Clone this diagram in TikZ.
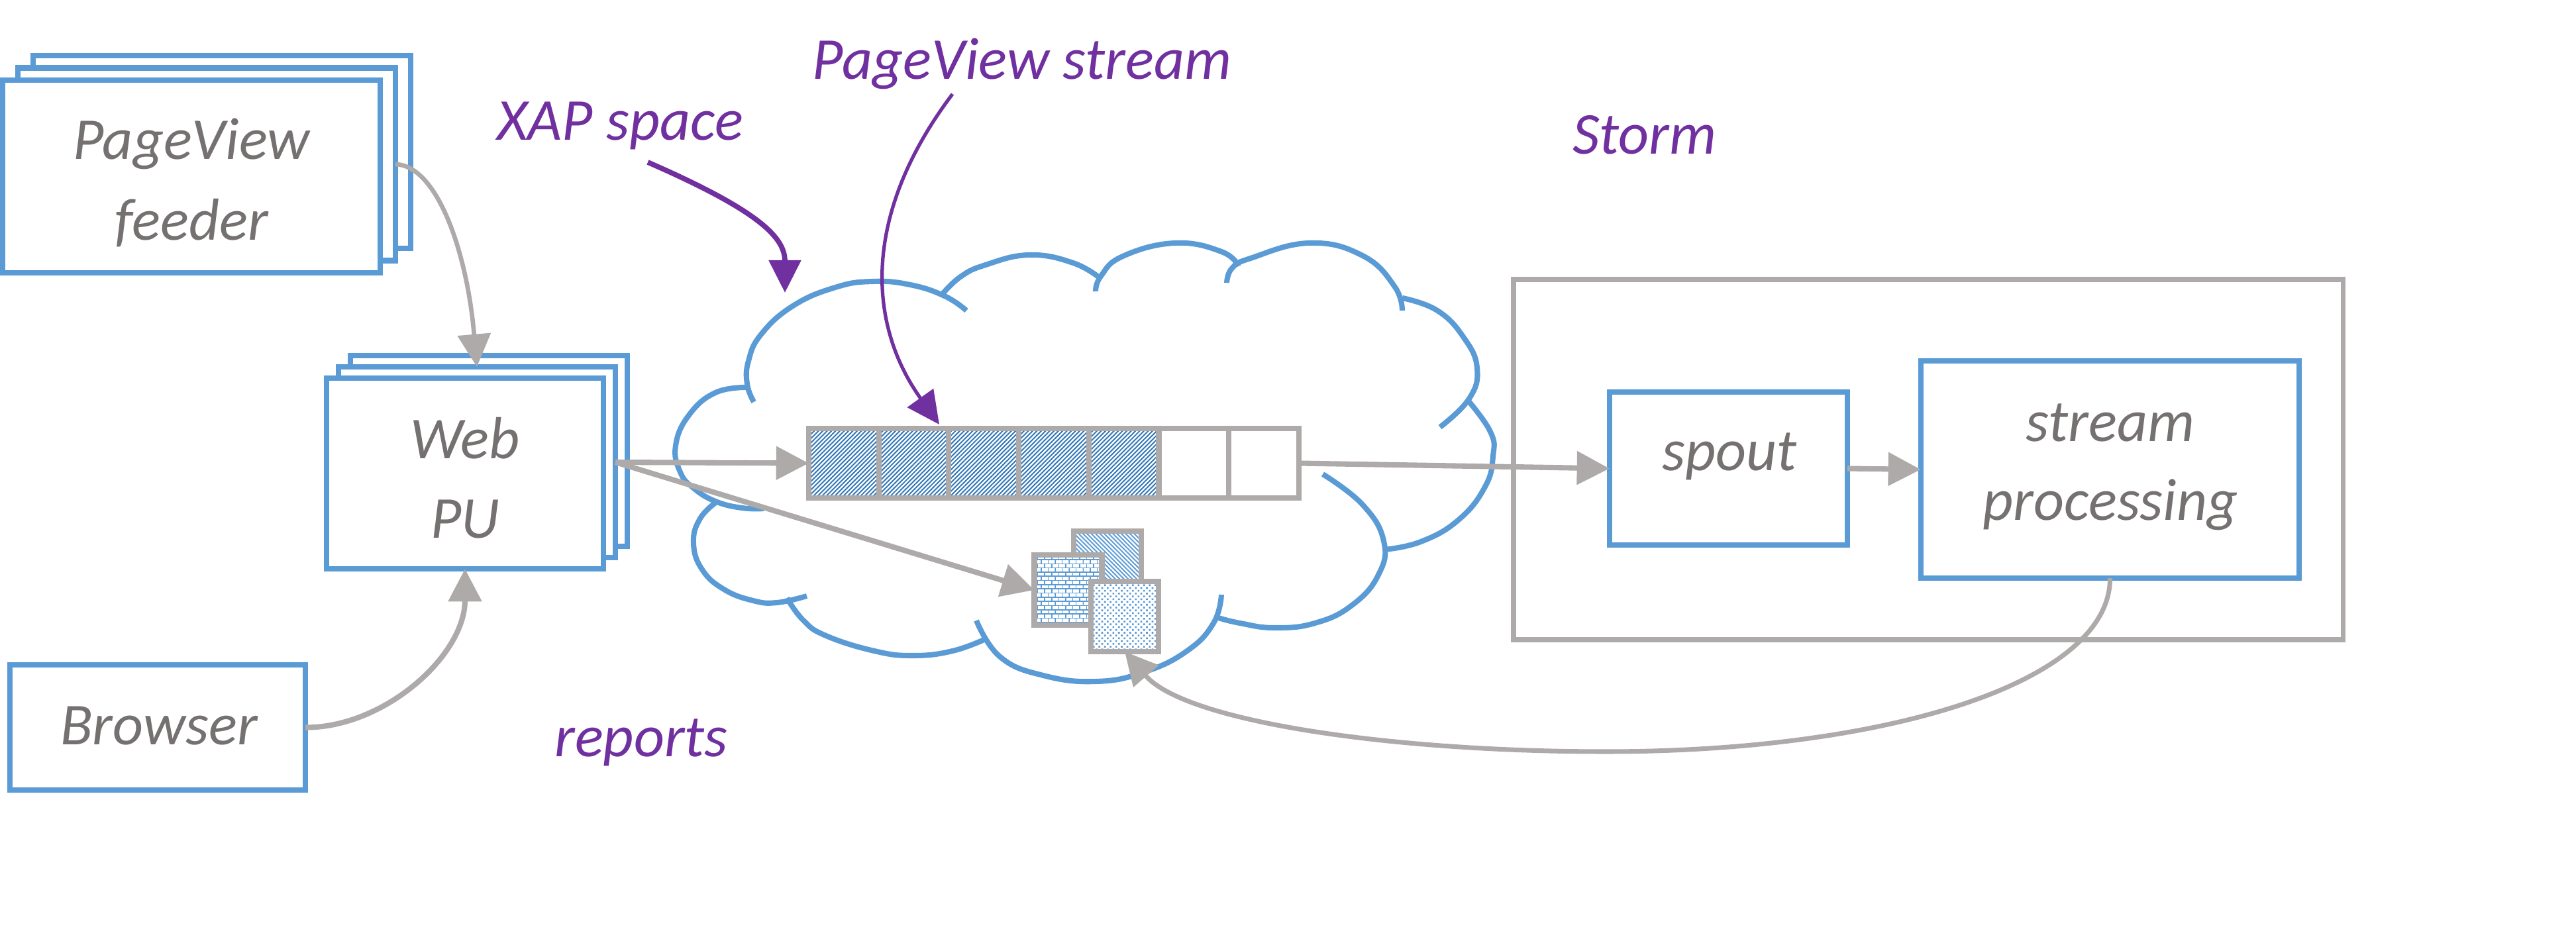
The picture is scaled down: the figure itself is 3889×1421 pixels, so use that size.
\documentclass[tikz,border=0pt]{standalone}
\usepackage{fontspec}
\setmainfont{Carlito}
\usetikzlibrary{arrows.meta,patterns,patterns.meta,calc}

\definecolor{boxblue}{HTML}{5B9BD5}
\definecolor{lgray}{HTML}{AEAAAA}
\definecolor{tgray}{HTML}{767171}
\definecolor{vio}{HTML}{7030A0}
\definecolor{hatchblue}{HTML}{2E75B6}

\pgfdeclarepatternformonly{smallbricks}{\pgfqpoint{-0.2pt}{-0.2pt}}{\pgfqpoint{3.2pt}{3.8pt}}{\pgfqpoint{3pt}{3.6pt}}{%
  \pgfsetlinewidth{0.45pt}%
  \pgfpathmoveto{\pgfqpoint{0pt}{0pt}}\pgfpathlineto{\pgfqpoint{3pt}{0pt}}%
  \pgfpathmoveto{\pgfqpoint{0pt}{1.8pt}}\pgfpathlineto{\pgfqpoint{3pt}{1.8pt}}%
  \pgfpathmoveto{\pgfqpoint{0pt}{0pt}}\pgfpathlineto{\pgfqpoint{0pt}{1.8pt}}%
  \pgfpathmoveto{\pgfqpoint{1.5pt}{1.8pt}}\pgfpathlineto{\pgfqpoint{1.5pt}{3.6pt}}%
  \pgfusepath{stroke}}

\pgfdeclarepatternformonly{smalldots}{\pgfqpoint{-0.1pt}{-0.1pt}}{\pgfqpoint{2.5pt}{2.5pt}}{\pgfqpoint{2.4pt}{2.4pt}}{%
  \pgfpathrectangle{\pgfqpoint{0pt}{0pt}}{\pgfqpoint{0.75pt}{0.75pt}}%
  \pgfpathrectangle{\pgfqpoint{1.2pt}{1.2pt}}{\pgfqpoint{0.75pt}{0.75pt}}%
  \pgfusepath{fill}}

\tikzset{
  bbox/.style={draw=boxblue, line width=2.4pt, fill=white, inner sep=0pt, outer sep=0pt},
  lbl/.style={font=\fontsize{25.5}{34}\selectfont\itshape, text=tgray, inner sep=0pt, anchor=base},
  note/.style={lbl, text=vio},
  garrow/.style={draw=lgray, line width=2.3pt, -{Triangle[length=14pt,width=14pt]}},
  varrow/.style={draw=vio, -{Triangle[length=14pt,width=13.5pt]}},
  cloudline/.style={draw=boxblue, line width=2.3pt},
  qcell/.style={draw=lgray, line width=2.3pt, inner sep=0pt, outer sep=0pt,
    minimum width=1.057cm, minimum height=1.05cm, fill=white},
  fullcell/.style={qcell, preaction={fill=white},
    pattern={Lines[angle=45,distance=1.3pt,line width=0.55pt]}, pattern color=hatchblue},
  rep/.style={draw=lgray, line width=2.3pt, inner sep=0pt, outer sep=0pt,
    minimum width=1.02cm, minimum height=1.06cm, preaction={fill=white}},
}

\begin{document}
\begin{tikzpicture}[x=0.01cm, y=-0.01cm]
\useasboundingbox (0,0) rectangle (3889,1421);

% cloud (XAP space)
\begin{scope}[cloudline, smooth, tension=0.75]
\draw plot coordinates {(1138,607) (1128,580) (1130,545) (1149,505) (1197,462) (1261,434) (1317,425) (1374,430) (1426,447) (1459,469)};
\draw plot coordinates {(1421,446) (1450,418) (1488,400) (1554,385) (1620,397) (1662,421)};
\draw plot coordinates {(1654,440) (1662,417) (1695,387) (1774,367) (1844,380) (1870,402)};
\draw plot coordinates {(1852,427) (1860,405) (1888,390) (1977,367) (2057,386) (2105,432) (2117,469)};
\draw plot coordinates {(2117,450) (2170,469) (2210,510) (2230,556) (2218,602) (2174,645)};
\draw plot coordinates {(2214,602) (2250,652) (2254,689) (2242,735) (2202,785) (2145,818) (2089,830)};
\draw plot coordinates {(1997,716) (2057,762) (2089,817) (2081,868) (2041,914) (1985,941) (1924,948) (1872,941) (1836,932)};
\draw plot coordinates {(1844,898) (1832,941) (1792,983) (1727,1015) (1655,1029) (1575,1020) (1510,992) (1474,937)};
\draw plot coordinates {(1490,964) (1438,983) (1378,990) (1320,983) (1247,960) (1213,937) (1188,903)};
\draw plot coordinates {(1218,900) (1173,910) (1137,907) (1093,890) (1060,860) (1047,820) (1057,783) (1083,757)};
\draw plot coordinates {(1153,768) (1120,767) (1080,757) (1047,737) (1027,713) (1020,673) (1040,627) (1080,593) (1128,585)};
\end{scope}

% Storm frame
\node[draw=lgray, line width=2.2pt, inner sep=0pt, outer sep=0pt,
      minimum width=12.52cm, minimum height=5.44cm] (storm) at (2911,694) {};

% PageView feeder stack
\node[bbox, minimum width=5.70cm, minimum height=2.91cm] (feeder3) at (335,229.5) {};
\node[bbox, minimum width=5.70cm, minimum height=2.91cm] (feeder2) at (312,248) {};
\node[bbox, minimum width=5.70cm, minimum height=2.91cm] (feeder1) at (289,266.5) {};

% Web PU stack
\node[bbox, minimum width=4.18cm, minimum height=2.88cm] (web3) at (738,681) {};
\node[bbox, minimum width=4.18cm, minimum height=2.88cm] (web2) at (720,698) {};
\node[bbox, minimum width=4.18cm, minimum height=2.88cm] (web1) at (702,715) {};

% Browser
\node[bbox, minimum width=4.46cm, minimum height=1.89cm] (browser) at (238,1098.5) {};

% spout, stream processing
\node[bbox, minimum width=3.59cm, minimum height=2.31cm] (spout) at (2609.5,707.5) {};
\node[bbox, minimum width=5.71cm, minimum height=3.28cm] (sp) at (3185.5,709) {};

% queue (PageView stream)
\foreach \i in {1,...,5}{
  \node[fullcell] (q\i) at ({1221+105.7*(\i-0.5)},699.5) {};
}
\foreach \i in {6,7}{
  \node[qcell] (q\i) at ({1221+105.7*(\i-0.5)},699.5) {};
}

% reports
\node[rep, pattern={Lines[angle=-45,distance=1.3pt,line width=0.55pt]}, pattern color=boxblue] (r1) at (1672,855) {};
\node[rep, pattern=smallbricks, pattern color=boxblue] (r2) at (1612.5,891) {};
\node[rep, pattern=smalldots, pattern color=boxblue] (r3) at (1698,931) {};

% texts
\node[lbl] (tfeed1) at (289,240) {PageView};
\node[lbl] (tfeed2) at (289,362) {feeder};
\node[lbl] (tweb1) at (702,692) {Web};
\node[lbl] (tweb2) at (702,812) {PU};
\node[lbl] (tbrowser) at (240,1124) {Browser};
\node[lbl] (tspout) at (2611,710) {spout};
\node[lbl] (tsp1) at (3186,666) {stream};
\node[lbl] (tsp2) at (3186,785) {processing};
\node[note] (xap) at (936,211) {XAP space};
\node[note] (pvs) at (1543,120) {PageView stream};
\node[note] (stormlbl) at (2483,232) {Storm};
\node[note] (reports) at (968,1142) {reports};

% connectors
\draw[garrow, line width=1.9pt] (feeder2.east) .. controls (660,250) and (705,380) .. (web2.north);
\draw[garrow] (browser.east) .. controls (580,1099) and (702,990) .. (web1.south);
\draw[garrow] (web2.east) -- (q1.west);
\draw[garrow] (web2.east) -- (r2.west);
\draw[garrow] (q7.east) -- (spout.west);
\draw[garrow] (spout.east) -- (sp.west);
\draw[garrow, line width=2pt] (sp.south) .. controls (3186,1030) and (2850,1135) .. (2424,1135)
   .. controls (2100,1135) and (1790,1090) .. (r3.south);

\coordinate (xapstart) at (978,245);
\coordinate (xaptip) at (1185,442);
\draw[varrow, line width=2.2pt] (xapstart) .. controls (1150,320) and (1185,360) .. (xaptip);
\coordinate (pvstart) at (1438,142);
\coordinate (pvtip) at (1418,641);
\draw[varrow, line width=1.5pt] (pvstart) .. controls (1300,325) and (1310,490) .. (pvtip);
\end{tikzpicture}
\end{document}
